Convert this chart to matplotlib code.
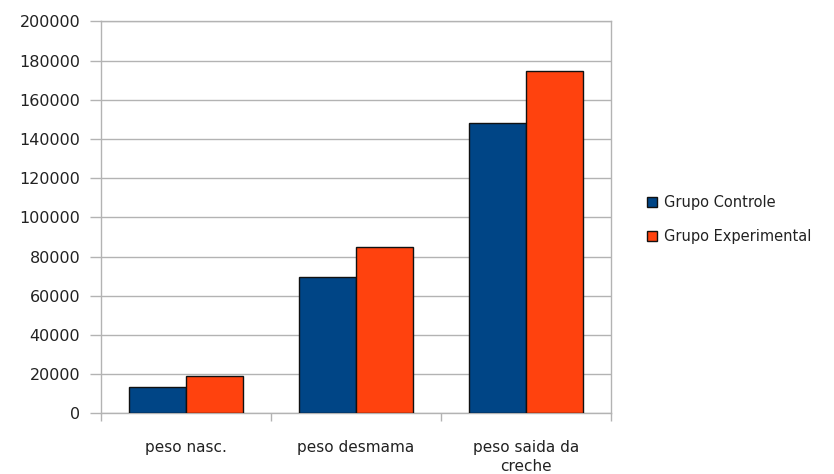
import numpy as np
import matplotlib.pyplot as plt

# pesos por fase
categorias = ['peso nasc.', 'peso desmama', 'peso saida da\ncreche']
controle = [13300, 69800, 148200]
experimental = [19000, 85000, 174500]
series = ['Grupo Controle', 'Grupo Experimental']
yticks = list(range(0, 200001, 20000))

plt.rcParams['font.family'] = ['DejaVu Sans']
grid_cor = '#b3b3b3'
txt_cor = '#222222'

fig = plt.figure(figsize=(8.34, 4.74), dpi=100)
ax = fig.add_axes([0.1211, 0.128, 0.6115, 0.827])

x = np.arange(len(categorias))
w = 0.335
ax.bar(x - w / 2, controle, w, color='#004586', edgecolor='#111111', linewidth=1.0,
       label=series[0], zorder=3)
ax.bar(x + w / 2, experimental, w, color='#ff420e', edgecolor='#111111', linewidth=1.0,
       label=series[1], zorder=3)

ax.set_xlim(-0.5, len(categorias) - 0.5)
ax.set_ylim(0, 200000)
ax.set_yticks(yticks)
ax.set_yticklabels([str(v) for v in yticks])
ax.yaxis.grid(True, color=grid_cor, linewidth=1.0, zorder=0)

# rótulos no centro, marcas nas divisas
ax.set_xticks(x)
ax.set_xticklabels(categorias, linespacing=1.35)
ax.set_xticks(np.arange(len(categorias) + 1) - 0.5, minor=True)
ax.tick_params(axis='x', which='major', length=0, pad=19, labelsize=11, labelcolor=txt_cor)
ax.tick_params(axis='x', which='minor', length=6, color=grid_cor, width=1.0)
ax.tick_params(axis='y', length=8, color=grid_cor, width=1.0, pad=7,
               labelsize=11.5, labelcolor=txt_cor)

for s in ax.spines.values():
    s.set_color(grid_cor)
    s.set_linewidth(1.0)

ax.legend(loc='center left', bbox_to_anchor=(1.045, 0.495), frameon=False,
          fontsize=10.5, handlelength=0.7, handleheight=0.7, handletextpad=0.45,
          labelspacing=1.3, labelcolor=txt_cor)

fig.savefig('out.png', dpi=100)
